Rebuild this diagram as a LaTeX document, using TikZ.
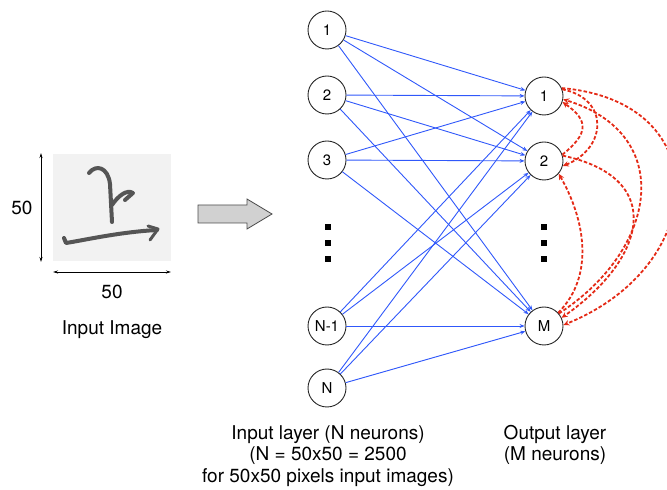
\documentclass[tikz,border=0pt]{standalone}
\usepackage{fontspec}
\setmainfont{TeX Gyre Heros}
\usepackage{tikz}
\usetikzlibrary{arrows.meta,positioning}
\definecolor{synblue}{RGB}{48,88,250}
\definecolor{latred}{RGB}{228,42,22}
\definecolor{inkgray}{RGB}{85,85,85}
\tikzset{
  neuron/.style={circle,draw=black!85,line width=0.9pt,minimum size=38pt,inner sep=0pt,
    font=\fontsize{15}{18}\selectfont},
  lbl/.style={font=\fontsize{19}{21.5}\selectfont,align=center,inner sep=0pt},
  vdot/.style={fill=black,minimum size=6pt,inner sep=0pt},
  syn/.style={synblue,line width=0.9pt,-{Stealth[length=5pt,width=4pt]}},
  lat/.style={latred,line width=1.8pt,dash pattern=on 3.5pt off 2pt,
    -{Stealth[length=6pt,width=5.5pt]}},
  dim/.style={black,line width=0.8pt,{Stealth[length=5pt,width=3pt]}-{Stealth[length=5pt,width=3pt]}},
  stroke/.style={inkgray,line width=4pt,line cap=round,line join=round}
}

\begin{document}
\begin{tikzpicture}[x=1pt,y=1pt]
  \useasboundingbox (0,0) rectangle (667,490);
  % input image
  \fill[black!5] (53,229) rectangle (171,336);
  \draw[stroke] (89,317) .. controls (96,326) and (108,323) .. (110,306) -- (112,268);
  \draw[stroke] (112,285) .. controls (118,294) and (127,301) .. (133,297) -- (125,290);
  \draw[stroke] (64,252) -- (66,247) .. controls (85,250) and (120,258) .. (157,260);
  \draw[stroke,line width=3pt] (148,264) -- (158,261) -- (150,250);
  \coordinate (vt) at (41,337);
  \coordinate (vb) at (41,228);
  \coordinate (hl) at (53,218);
  \coordinate (hr) at (171,218);
  \draw[dim] (vb) -- (vt);
  \draw[dim] (hl) -- (hr);
  \node[lbl] (hsize) at (22,282) {50};
  \node[lbl] (wsize) at (112,198) {50};
  \node[lbl] (imgcap) at (112,160) {Input Image};
  % block arrow
  \draw[fill=black!18,draw=black!70,line width=0.8pt]
    (198,267) -- (247,267) -- (247,261) -- (272,276) -- (247,291) -- (247,285) -- (198,285) -- cycle;
  % input layer
  \node[neuron] (i1) at (327,460) {1};
  \node[neuron] (i2) at (327,395) {2};
  \node[neuron] (i3) at (327,330) {3};
  \node[neuron] (iN1) at (327,164) {N-1};
  \node[neuron] (iN) at (327,102) {N};
  % output layer
  \node[neuron] (o1) at (544,394) {1};
  \node[neuron] (o2) at (544,329) {2};
  \node[neuron] (oM) at (544,164) {M};
  % vertical dots
  \foreach \Y/\K in {263/a,247/b,231/c}{
    \node[vdot] (di\K) at (328,\Y) {};
    \node[vdot] (do\K) at (544,\Y) {};
  }
  % feed-forward weights
  \foreach \I in {i1,i2,i3,iN1,iN}
    \foreach \O in {o1,o2,oM}
      \draw[syn] (\I) -- (\O);
  % lateral connections
  \draw[lat] (o1.24) to[out=-5,in=22,looseness=1.69] (oM.3);
  \draw[lat] (oM.40) to[out=33,in=-17,looseness=1.41] (o1.-10);
  \draw[lat] (o2.16) to[out=-12,in=35,looseness=1.66] (oM.25);
  \draw[lat] (o1.20) to[out=-11,in=22,looseness=1.6] (o2.-15);
  \draw[lat] (o2.19) to[out=39,in=-35,looseness=1.6] (o1.-18);
  \draw[lat] (oM.43) to[out=45,in=-60,looseness=0.96] (o2.-41);
  % captions
  \node[lbl] (intext) at (328,34) {Input layer (N neurons)\\(N = 50x50 = 2500\\for 50x50 pixels input images)};
  \node[lbl] (outtext) at (555,45) {Output layer\\(M neurons)};
\end{tikzpicture}
\end{document}
